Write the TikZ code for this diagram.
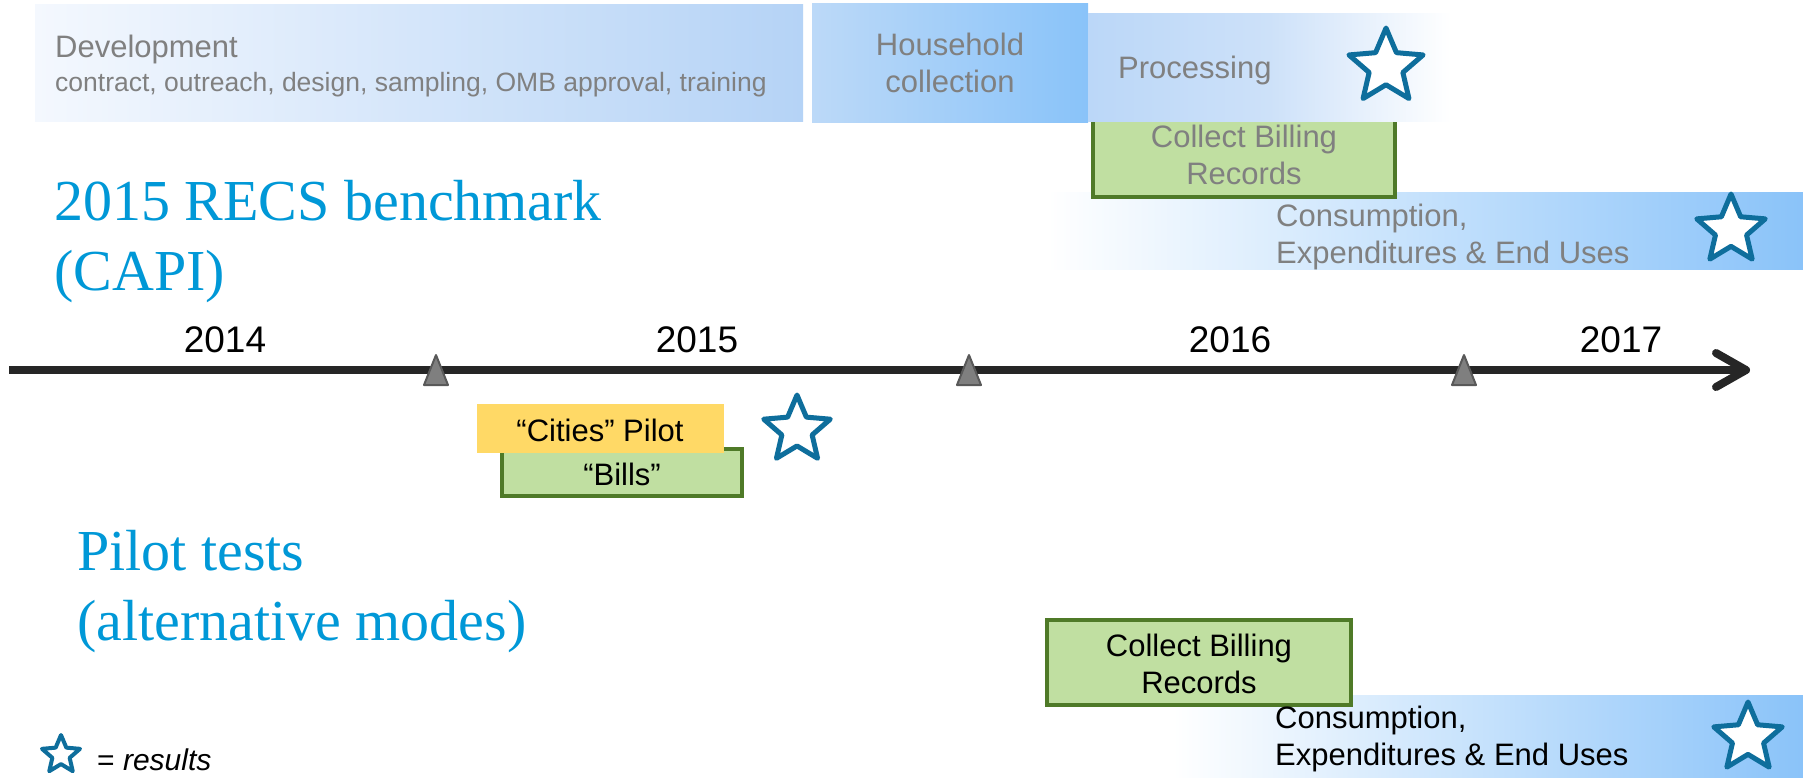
\documentclass[tikz,border=0pt]{standalone}
\usepackage{fontspec}
\setmainfont{Liberation Sans}
\newfontfamily\titlefont{Liberation Serif}
\usetikzlibrary{shapes.geometric,arrows.meta}

\definecolor{titleblue}{RGB}{0,152,215}
\definecolor{starblue}{RGB}{14,110,156}
\definecolor{txtgray}{RGB}{128,128,128}
\definecolor{billgreen}{RGB}{192,223,161}
\definecolor{billedge}{RGB}{79,122,40}
\definecolor{pilotyellow}{RGB}{255,217,102}
\definecolor{lineblack}{RGB}{38,38,38}
\definecolor{tickgray}{RGB}{127,127,127}
\definecolor{tickedge}{RGB}{89,89,89}
\definecolor{devleft}{RGB}{244,248,254}
\definecolor{devright}{RGB}{181,211,246}
\definecolor{hhleft}{RGB}{188,217,248}
\definecolor{hhright}{RGB}{137,195,249}
\definecolor{procleft}{RGB}{187,215,248}
\definecolor{procmid}{RGB}{205,225,249}
\definecolor{barblue}{RGB}{138,195,249}

\tikzset{
  bar/.style={inner sep=0, outer sep=0},
  billbox/.style={draw=billedge, fill=billgreen, line width=4, inner sep=0},
  result/.style={star, star points=5, star point ratio=2.2, draw=starblue, fill=white,
    line width=5, line join=round, inner sep=0},
  lbl/.style={inner sep=0, align=center, font=\fontsize{31}{37}\selectfont},
  graylbl/.style={lbl, text=txtgray},
  year/.style={inner sep=0, font=\fontsize{37}{44}\selectfont},
  heading/.style={inner sep=0, text=titleblue, align=left, font=\titlefont\fontsize{58}{70}\selectfont},
  timeline/.style={draw=lineblack, line width=8, -{Straight Barb[length=30pt, width=34pt, round]}},
  tick/.style={fill=tickgray, draw=tickedge, line width=2, line join=round}
}

\begin{document}
\begin{tikzpicture}[x=1pt, y=-1pt]
\path[fill=white] (0,0) rectangle (1803,777);
\useasboundingbox (0,0) rectangle (1803,777);

% 2015 RECS bars
\node[bar, left color=devleft, right color=devright, minimum width=768, minimum height=117] (dev) at (419,62.5) {};
\node[bar, left color=hhleft, right color=hhright, minimum width=276, minimum height=119] (house) at (950,62.5) {};
\node[bar, left color=white, right color=barblue, minimum width=756, minimum height=77] (cons1) at (1425,230.5) {};
\node[billbox, minimum width=302, minimum height=80] (bill1) at (1244,157) {};
\node[bar, left color=procleft, right color=white, middle color=procmid, minimum width=363, minimum height=108] (proc) at (1269.5,67) {};

% multi-line texts sit on their last baseline
\node[graylbl, anchor=base west] (devtxt) at (55,57) {Development};
\node[graylbl, anchor=base west, font=\fontsize{26.5}{32}\selectfont] (devsub) at (55,91) {contract, outreach, design, sampling, OMB approval, training};
\node[graylbl, anchor=base] (housetxt) at (950,92) {Household\\collection};
\node[graylbl, anchor=base west] (proctxt) at (1118,78) {Processing};
\node[graylbl, anchor=base] (bill1txt) at (1244,184) {Collect Billing\\Records};
\node[graylbl, anchor=base west, align=left] (cons1txt) at (1276,263) {Consumption,\\Expenditures \& End Uses};

\node[result, minimum size=78] (res1) at (1386,67) {};
\node[result, minimum size=72] (res2) at (1731,230) {};

\node[heading, anchor=base west] (recs) at (54,290) {2015 RECS benchmark\\(CAPI)};

% timeline
\coordinate (tl0) at (9,370);
\coordinate (tl1) at (1750,370);
\draw[timeline] (tl0) -- (tl1);
\foreach \x in {436,969,1464}
  \draw[tick] (\x,355) -- (\x+12,385) -- (\x-12,385) -- cycle;
\node[year, anchor=base] (y14) at (225,352) {2014};
\node[year, anchor=base] (y15) at (697,352) {2015};
\node[year, anchor=base] (y16) at (1230,352) {2016};
\node[year, anchor=base] (y17) at (1621,352) {2017};

% pilot tests
\node[billbox, minimum width=240, minimum height=47] (bills) at (622,472.5) {};
\node[bar, fill=pilotyellow, minimum width=247, minimum height=49] (cities) at (600.5,428.5) {};
\node[lbl, anchor=base] (citiestxt) at (600,441) {“Cities” Pilot};
\node[lbl, anchor=base] (billstxt) at (622,485) {“Bills”};
\node[result, minimum size=70] (res3) at (797,430) {};

\node[heading, anchor=base west] (pilot) at (77,640) {Pilot tests\\(alternative modes)};

\node[bar, left color=white, right color=barblue, minimum width=630, minimum height=82] (cons2) at (1488,736) {};
\node[billbox, minimum width=304, minimum height=85] (bill2) at (1199,662.5) {};
\node[lbl, anchor=base] (bill2txt) at (1199,693) {Collect Billing\\Records};
\node[lbl, anchor=base west, align=left] (cons2txt) at (1275,765) {Consumption,\\Expenditures \& End Uses};
\node[result, minimum size=72] (res4) at (1748,738) {};

% legend
\node[result, minimum size=40, line width=4] (key) at (61,755) {};
\node[lbl, anchor=base west, font=\fontsize{30}{36}\selectfont] (keytxt) at (97,770) {= \textit{results}};
\end{tikzpicture}
\end{document}
